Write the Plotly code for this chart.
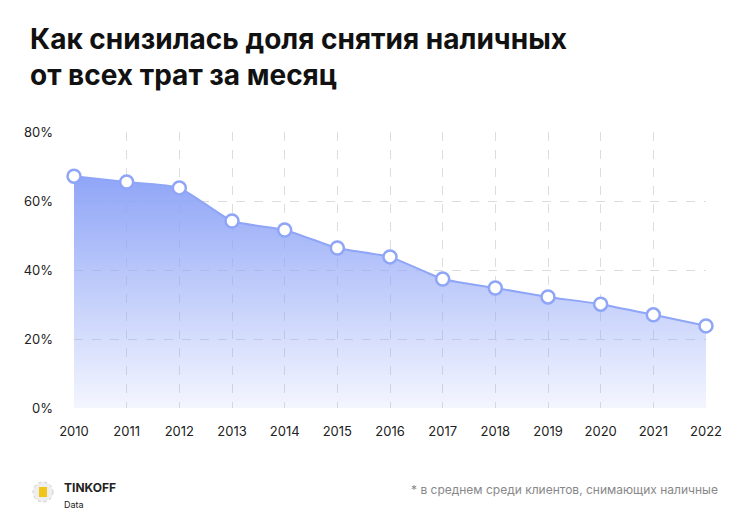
import plotly.graph_objects as go

years = [str(y) for y in range(2010, 2023)]
share = [67.2, 65.5, 63.8, 54.2, 51.6, 46.4, 43.8, 37.4, 34.8, 32.2, 30.1, 27.0, 23.8]
yticks = [0, 20, 40, 60, 80]
ytick_labels = ["0%", "20%", "40%", "60%", "80%"]

fig = go.Figure()
fig.add_trace(go.Scatter(
    x=list(range(len(years))), y=share, mode="lines+markers",
    line=dict(color="#8fa5f7", width=2, shape="spline", smoothing=0.5),
    marker=dict(size=13, color="white", line=dict(color="#8fa5f7", width=2.5)),
    fill="tozeroy", cliponaxis=False,
    fillgradient=dict(type="vertical", colorscale=[[0, "rgba(143,165,247,0.1)"], [1, "rgba(143,165,247,1)"]]),
    hoverinfo="skip", showlegend=False,
))
fig.update_layout(
    width=750, height=526, margin=dict(l=66, r=52, t=124, b=126),
    paper_bgcolor="white", plot_bgcolor="white",
    font=dict(family="Inter", color="#222", size=13),
    xaxis=dict(range=[0, 12], tickvals=list(range(len(years))), ticktext=years, automargin=False,
               showgrid=True, gridcolor="#dddddd", griddash="dash", zeroline=False,
               ticks="", ticklabelstandoff=14, tickfont=dict(size=13, color="#222"), showline=False),
    yaxis=dict(range=[0, 80], tickvals=yticks, ticktext=ytick_labels, automargin=False,
               showgrid=True, gridcolor="#dddddd", griddash="dash", zeroline=False,
               ticks="", ticklabelstandoff=20, tickfont=dict(size=13, color="#222")),
    annotations=[
        dict(text="<b>Как снизилась доля снятия наличных<br>от всех трат за месяц</b>",
             xref="paper", yref="paper", x=0, y=1, xshift=-46, yshift=112, xanchor="left", yanchor="top",
             align="left", showarrow=False, font=dict(size=28, color="#111", family="Inter")),
        dict(text="<b>TINKOFF</b><br><span style='font-size:9px'>Data</span>",
             xref="paper", yref="paper", x=0, y=0, xshift=-12, yshift=-70, xanchor="left", yanchor="top",
             align="left", showarrow=False, font=dict(size=12, color="#222")),
        dict(text="* в среднем среди клиентов, снимающих наличные",
             xref="paper", yref="paper", x=1, y=0, xshift=14, yshift=-72, xanchor="right", yanchor="top",
             showarrow=False, font=dict(size=12, color="#888")),
    ],
    shapes=[
        dict(type="circle", xref="paper", yref="paper", xsizemode="pixel", ysizemode="pixel",
             xanchor=0, yanchor=0, x0=-41, x1=-21, y0=-94, y1=-74,
             fillcolor="#eeeeee", line=dict(color="#cccccc", width=1, dash="dot")),
        dict(type="rect", xref="paper", yref="paper", xsizemode="pixel", ysizemode="pixel",
             xanchor=0, yanchor=0, x0=-35, x1=-27, y0=-89, y1=-79,
             fillcolor="#f0c419", line=dict(width=0)),
    ],
)
fig.write_html("out.html")
